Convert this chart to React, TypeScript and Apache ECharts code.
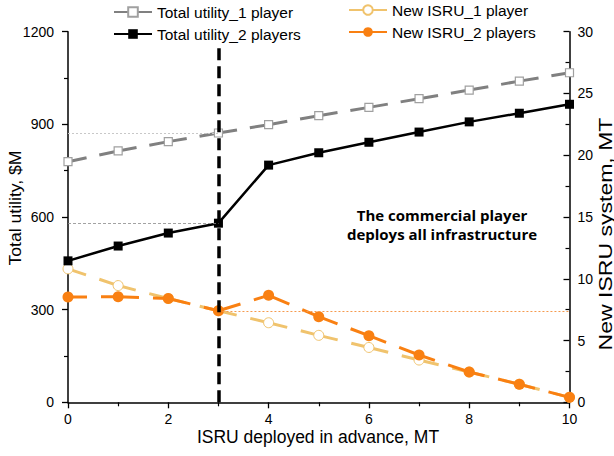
import React, { useEffect, useRef } from "react";
import * as echarts from "echarts";

const xValues = [0, 1, 2, 3, 4, 5, 6, 7, 8, 9, 10];
const utility1Player = [779, 814, 844, 872, 899, 928, 955, 983, 1011, 1040, 1067];
const utility2Players = [458, 506, 548, 580, 768, 808, 842, 875, 908, 936, 965];
const isru1Player = [10.8, 9.45, 8.4, 7.41, 6.44, 5.42, 4.44, 3.42, 2.45, 1.46, 0.4];
const isru2Players = [8.52, 8.55, 8.4, 7.41, 8.66, 6.93, 5.39, 3.83, 2.45, 1.46, 0.4];
const splitX = 3;

const seriesNames = [
  "Total utility_1 player",
  "Total utility_2 players",
  "New ISRU_1 player",
  "New ISRU_2 players",
];

const FONT = "'Liberation Sans', Arial, sans-serif";

const pairs = (ys: number[]) => xValues.map((x, i) => [x, ys[i]]);

export default function App() {
  const ref = useRef<HTMLDivElement>(null);
  useEffect(() => {
    if (!ref.current) return;
    const chart = echarts.init(ref.current, undefined, { renderer: "svg" });
    const idx = xValues.indexOf(splitX);
    const axisCommon = {
      axisLine: { show: true, lineStyle: { color: "#000", width: 1.5 } },
      splitLine: { show: false },
      axisLabel: {
        color: "#000",
        fontSize: 14,
        fontFamily: FONT,
        formatter: (v: number) => String(v),
      },
    };
    const legendText = { fontSize: 15.5, fontFamily: FONT, color: "#000" };
    chart.setOption({
      animation: false,
      grid: { left: 68, right: 44.5, top: 31.7, bottom: 53.7 },
      legend: [
        {
          orient: "vertical",
          left: 108,
          top: -1,
          itemWidth: 38,
          itemHeight: 12,
          itemGap: 6,
          selectedMode: false,
          lineStyle: { type: "solid" },
          textStyle: legendText,
          data: [seriesNames[0], seriesNames[1]],
        },
        {
          orient: "vertical",
          left: 343,
          top: -3,
          itemWidth: 38,
          itemHeight: 12,
          itemGap: 6,
          selectedMode: false,
          lineStyle: { type: "solid" },
          textStyle: legendText,
          data: [seriesNames[2], seriesNames[3]],
        },
      ],
      xAxis: {
        type: "value",
        min: 0,
        max: 10,
        interval: 2,
        ...axisCommon,
        axisTick: { show: true, length: 6, lineStyle: { color: "#000", width: 1.3 } },
        minorTick: { show: true, splitNumber: 2, length: 4, lineStyle: { color: "#000", width: 1.2 } },
        axisLabel: { ...axisCommon.axisLabel, margin: 10 },
      },
      yAxis: [
        {
          type: "value",
          position: "left",
          min: 0,
          max: 1200,
          interval: 300,
          ...axisCommon,
          axisTick: { show: true, length: 6, lineStyle: { color: "#000", width: 1.3 } },
          minorTick: { show: true, splitNumber: 2, length: 4, lineStyle: { color: "#000", width: 1.2 } },
          axisLabel: { ...axisCommon.axisLabel, margin: 14 },
        },
        {
          type: "value",
          position: "right",
          min: 0,
          max: 30,
          interval: 5,
          ...axisCommon,
          axisTick: { show: true, inside: true, length: 6, lineStyle: { color: "#000", width: 1.3 } },
          minorTick: { show: true, splitNumber: 2, length: 4, lineStyle: { color: "#000", width: 1.2 } },
          axisLabel: { ...axisCommon.axisLabel, margin: 8 },
        },
      ],
      series: [
        {
          name: seriesNames[0],
          type: "line",
          yAxisIndex: 0,
          data: pairs(utility1Player),
          symbol: "rect",
          symbolSize: 8,
          z: 2,
          lineStyle: { color: "#808080", width: 3, type: [38, 13], dashOffset: 19 },
          itemStyle: { color: "#fff", borderColor: "#a0a0a0", borderWidth: 1.2 },
          emphasis: { disabled: true },
          markLine: {
            silent: true,
            symbol: "none",
            label: { show: false },
            lineStyle: { color: "#c8c8c8", width: 1, type: [2, 2] },
            data: [[{ coord: [0, utility1Player[idx]] }, { coord: [splitX, utility1Player[idx]] }]],
          },
        },
        {
          name: seriesNames[1],
          type: "line",
          yAxisIndex: 0,
          data: pairs(utility2Players),
          symbol: "rect",
          symbolSize: 9,
          z: 3,
          lineStyle: { color: "#000", width: 2.5 },
          itemStyle: { color: "#000" },
          emphasis: { disabled: true },
          markLine: {
            silent: true,
            symbol: "none",
            label: { show: false },
            lineStyle: { color: "#8a8a8a", width: 0.8, type: [3, 2] },
            data: [[{ coord: [0, utility2Players[idx]] }, { coord: [splitX, utility2Players[idx]] }]],
          },
        },
        {
          name: seriesNames[2],
          type: "line",
          yAxisIndex: 1,
          data: pairs(isru1Player),
          symbol: "circle",
          symbolSize: 10,
          z: 2,
          lineStyle: { color: "#F0C36D", width: 3, type: [38, 14], dashOffset: 19 },
          itemStyle: { color: "#fff", borderColor: "#F0C36D", borderWidth: 1 },
          emphasis: { disabled: true },
        },
        {
          name: seriesNames[3],
          type: "line",
          yAxisIndex: 1,
          data: pairs(isru2Players),
          symbol: "circle",
          symbolSize: 11,
          z: 4,
          lineStyle: { color: "#F98012", width: 3, type: [38, 14], dashOffset: 19 },
          itemStyle: { color: "#F98012" },
          emphasis: { disabled: true },
          markLine: {
            silent: true,
            symbol: "none",
            label: { show: false },
            lineStyle: { color: "#F59A4E", width: 1, type: [2, 2] },
            data: [[{ coord: [splitX, isru2Players[idx]] }, { coord: [10, isru2Players[idx]] }]],
          },
        },
        {
          name: "divider",
          type: "line",
          yAxisIndex: 0,
          data: [],
          z: 10,
          markLine: {
            silent: true,
            symbol: "none",
            label: { show: false },
            lineStyle: { color: "#000", width: 3.5, type: [12, 6] },
            data: [[{ coord: [splitX, 0] }, { coord: [splitX, 1160] }]],
          },
        },
      ],
      graphic: [
        {
          type: "text",
          x: 16,
          y: 208,
          rotation: Math.PI / 2,
          scaleX: 1.1,
          style: {
            text: "Total utility, $M",
            fontSize: 16,
            fontFamily: FONT,
            fill: "#000",
            align: "center",
            verticalAlign: "middle",
          },
        },
        {
          type: "text",
          x: 605,
          y: 234,
          rotation: Math.PI / 2,
          scaleX: 1.28,
          style: {
            text: "New ISRU system, MT",
            fontSize: 18,
            fontFamily: FONT,
            fill: "#000",
            align: "center",
            verticalAlign: "middle",
          },
        },
        {
          type: "text",
          x: 318,
          y: 437,
          style: {
            text: "ISRU deployed in advance, MT",
            fontSize: 17.5,
            fontFamily: FONT,
            fill: "#000",
            align: "center",
            verticalAlign: "middle",
          },
        },
        {
          type: "text",
          x: 442,
          y: 215,
          style: {
            text: "The commercial player",
            fontSize: 15,
            fontWeight: "bold",
            fontFamily: "'Open Sans', sans-serif",
            fill: "#000",
            align: "center",
            verticalAlign: "middle",
          },
        },
        {
          type: "text",
          x: 442,
          y: 234,
          style: {
            text: "deploys all infrastructure",
            fontSize: 15,
            fontWeight: "bold",
            fontFamily: "'Open Sans', sans-serif",
            fill: "#000",
            align: "center",
            verticalAlign: "middle",
          },
        },
      ],
    });
    return () => chart.dispose();
  }, []);
  return (
    <div
      ref={ref}
      style={{ position: "fixed", left: 0, top: 0, width: 614, height: 456, background: "#fff" }}
    />
  );
}
